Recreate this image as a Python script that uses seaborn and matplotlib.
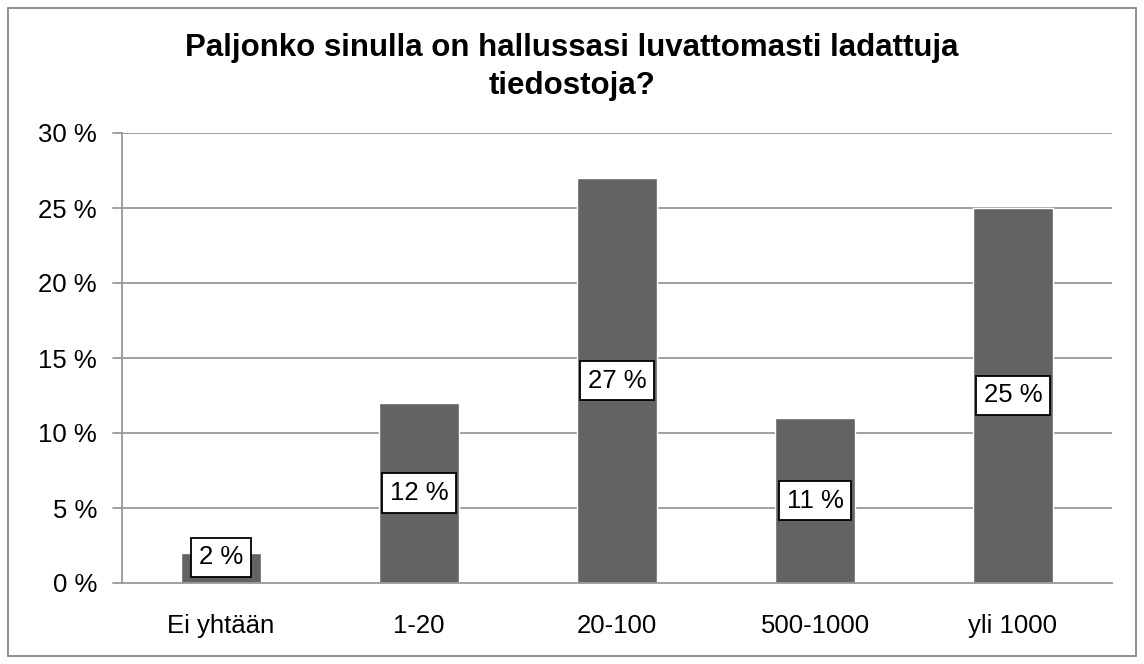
import matplotlib
matplotlib.use("Agg")
import matplotlib.pyplot as plt
import seaborn as sns
import pandas as pd
from matplotlib.patches import Rectangle

categories = ["Ei yhtään", "1-20", "20-100", "500-1000", "yli 1000"]
values = [2, 12, 27, 11, 25]
yticks = [0, 5, 10, 15, 20, 25, 30]
title = "Paljonko sinulla on hallussasi luvattomasti ladattuja\ntiedostoja?"

sns.set_theme(style="white")
plt.rcParams['font.family'] = ['Liberation Sans', 'DejaVu Sans']
plt.rcParams['text.color'] = 'black'
plt.rcParams['xtick.color'] = 'black'
plt.rcParams['ytick.color'] = 'black'

df = pd.DataFrame({"cat": categories, "val": values})

fig = plt.figure(figsize=(11.44, 6.64), dpi=100)
ax = fig.add_axes([122/1144, 1-583/664, 990/1144, 450/664])

grid_c = "#999999"
fs = 18.5
for t in yticks[1:]:
    ax.axhline(t, color=grid_c, lw=1.3, zorder=0)

sns.barplot(data=df, x="cat", y="val", color="#636363", width=0.4,
            saturation=1, ax=ax, zorder=2)

ax.set_ylim(0, 30)
ax.set_xlim(-0.5, len(categories) - 0.5)
ax.set_yticks(yticks)
ax.set_yticklabels([f"{t} %" for t in yticks], fontsize=fs, color="black")
ax.set_xticks(range(len(categories)))
ax.set_xticklabels(categories, fontsize=fs, color="black")
ax.set_xlabel("")
ax.set_ylabel("")
ax.tick_params(axis="x", length=0, pad=22)
ax.tick_params(axis="y", length=0, pad=18)

# minor ticks at category boundaries
ax.set_xticks([i - 0.5 for i in range(len(categories) + 1)], minor=True)
ax.tick_params(axis="x", which="minor", length=7, color=grid_c, width=1.3, direction="out")
for t in yticks:
    ax.plot([-0.5 - 9/198, -0.5], [t, t], color=grid_c, lw=1.3, clip_on=False, zorder=1)

for s in ["top", "right"]:
    ax.spines[s].set_visible(False)
for s in ["left", "bottom"]:
    ax.spines[s].set_color(grid_c)
    ax.spines[s].set_linewidth(1.3)

for i, v in enumerate(values):
    ax.text(i, max(v / 2, 1.7), f"{v} %", ha="center", va="center", fontsize=fs,
            zorder=5, color="black",
            bbox=dict(boxstyle="square,pad=0.3", facecolor="white", edgecolor="black", lw=1.3))

fig.text(0.5, 1 - 67/664, title, ha="center", va="center", fontsize=22.5,
         fontweight="bold", linespacing=1.32, color="black")

fig.patches.append(Rectangle((8/1144, 8/664), 1128/1144, 648/664, transform=fig.transFigure,
                             fill=False, edgecolor="#888888", lw=1.3))

fig.savefig("out.png", dpi=100)
